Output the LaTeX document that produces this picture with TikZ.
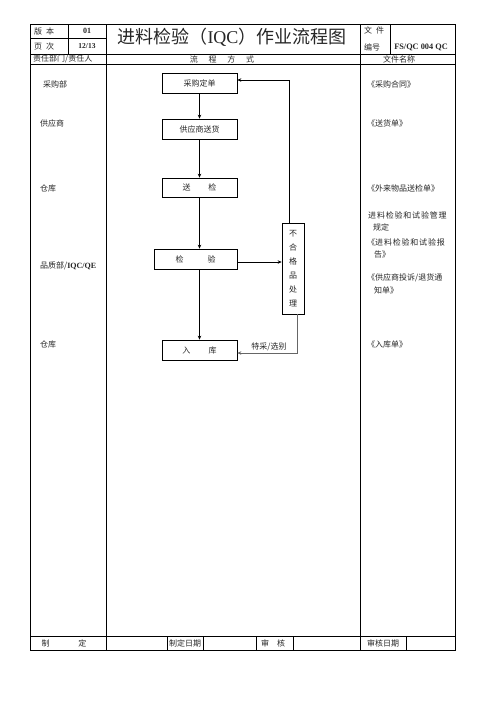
\documentclass[tikz,border=0pt]{standalone}
\usepackage{fontspec}
\setmainfont{Liberation Serif}
\newfontfamily\cjk{Noto Sans CJK SC}
\usetikzlibrary{arrows.meta}
\begin{document}
\begin{tikzpicture}[x=1pt,y=-1pt,
  grid/.style={line width=0.7pt,black},
  txt/.style={font=\cjk\fontsize{8}{10}\selectfont,inner sep=0pt,text=black!85},
  ltxt/.style={txt,anchor=west},
  stepbox/.style={draw,line width=0.7pt,minimum width=75pt,minimum height=20pt,inner sep=0pt,font=\cjk\fontsize{8}{10}\selectfont,text=black!85},
  flow/.style={line width=0.7pt,-{Stealth[length=4pt,width=3.5pt]}},
]
\useasboundingbox (0,0) rectangle (496,702);
% ---------- table ----------
\draw[grid] (30,24) rectangle (455,650);
\draw[grid] (30,54) -- (455,54);
\draw[grid] (30,64) -- (455,64);
\draw[grid] (30,636) -- (455,636);
\draw[grid] (30,38) -- (106,38);
\draw[grid] (68,24) -- (68,54);
\draw[grid] (106,24) -- (106,650);
\draw[grid] (360,24) -- (360,650);
\draw[grid] (390,24) -- (390,54);
\draw[grid] (167,636) -- (167,650);
\draw[grid] (203,636) -- (203,650);
\draw[grid] (256,636) -- (256,650);
\draw[grid] (293,636) -- (293,650);
\draw[grid] (406,636) -- (406,650);
% ---------- header texts ----------
\node[ltxt] (h1) at (34,31) {版\hspace{0.5em}本};
\node[ltxt] (h2) at (34,46) {页\hspace{0.5em}次};
\node[txt,font=\bfseries\fontsize{8}{10}\selectfont] (h3) at (87,31) {01};
\node[txt,font=\bfseries\fontsize{7.5}{10}\selectfont] (h4) at (87,46) {12/13};
\node[txt,font=\cjk\fontsize{18}{20}\selectfont] (title) at (232,37) {进料检验（{\rmfamily IQC}）作业流程图};
\node[ltxt] (h5) at (364,30) {文\hspace{0.5em}件};
\node[ltxt] (h6) at (364,47) {编号};
\node[txt,font=\bfseries\fontsize{8.3}{10}\selectfont] (h7) at (421,47) {FS/QC 004 QC};
\node[ltxt] (h8) at (33,59) {责任部门/责任人};
\node[txt] (h9) at (222,59) {流\hspace{1.35em}程\hspace{1.35em}方\hspace{1.35em}式};
\node[txt] (h10) at (399,59) {文件名称};
% ---------- left column ----------
\node[ltxt] (d1) at (43,84) {采购部};
\node[ltxt] (d2) at (40,123) {供应商};
\node[ltxt] (d3) at (40,188) {仓库};
\node[ltxt] (d4) at (40,266) {品质部/{\rmfamily\bfseries IQC/QE}};
\node[ltxt] (d5) at (40,344) {仓库};
% ---------- right column ----------
\node[ltxt] (r1) at (367,84) {《采购合同》};
\node[ltxt] (r2) at (367,123) {《送货单》};
\node[ltxt] (r3) at (367,188) {《外来物品送检单》};
\node[ltxt] (r4) at (368,215) {进\hspace{0.1em}料\hspace{0.1em}检\hspace{0.1em}验\hspace{0.1em}和\hspace{0.1em}试\hspace{0.1em}验\hspace{0.1em}管\hspace{0.1em}理};
\node[ltxt] (r5) at (373,227) {规定};
\node[ltxt] (r6) at (367,242) {《进\hspace{0.1em}料\hspace{0.1em}检\hspace{0.1em}验\hspace{0.1em}和\hspace{0.1em}试\hspace{0.1em}验\hspace{0.1em}报};
\node[ltxt] (r7) at (374,254) {告》};
\node[ltxt] (r8) at (367,278) {《供应商投诉/退货通};
\node[ltxt] (r9) at (374,290) {知单》};
\node[ltxt] (r10) at (367,344) {《入库单》};
% ---------- flow ----------
\node[stepbox] (b1) at (199.5,83) {采购定单};
\node[stepbox] (b2) at (199.5,129) {供应商送货};
\node[stepbox,minimum height=19pt] (b3) at (199.5,187.5) {送\hspace{2.2em}检};
\node[stepbox,minimum width=83pt] (b4) at (195.5,259) {检\hspace{3em}验};
\node[stepbox] (b5) at (199.5,350) {入\hspace{2.3em}库};
\node[draw,line width=0.7pt,minimum width=22pt,minimum height=91pt,inner sep=0pt,
      font=\cjk\fontsize{8}{14}\selectfont,text=black!85,align=center] (b6) at (293,268.5)
      {不\\合\\格\\品\\处\\理};
\draw[flow] (b1.south) -- (b2.north);
\draw[flow] (b2.south) -- (b3.north);
\draw[flow] (b3.south) -- (b3.south |- b4.north);
\draw[flow] (b3.south |- b4.south) -- (b5.north);
\draw[flow] ([yshift=-3pt]b4.east) -- ([yshift=-3pt]b4.east -| b6.west);
\draw[flow] ([xshift=-4pt]b6.north) |- ([yshift=3pt]b1.east);
\draw[flow,draw=black!60] ([xshift=4pt]b6.south) |- ([yshift=-3pt]b5.east);
\node[txt] (t1) at (269,347) {特采/选别};
% ---------- bottom row ----------
\node[txt] (f1) at (64,643) {制\hspace{3.6em}定};
\node[txt] (f2) at (185,643) {制定日期};
\node[txt] (f3) at (273,643) {审\hspace{1em}核};
\node[txt] (f4) at (383,643) {审核日期};
\end{tikzpicture}
\end{document}
